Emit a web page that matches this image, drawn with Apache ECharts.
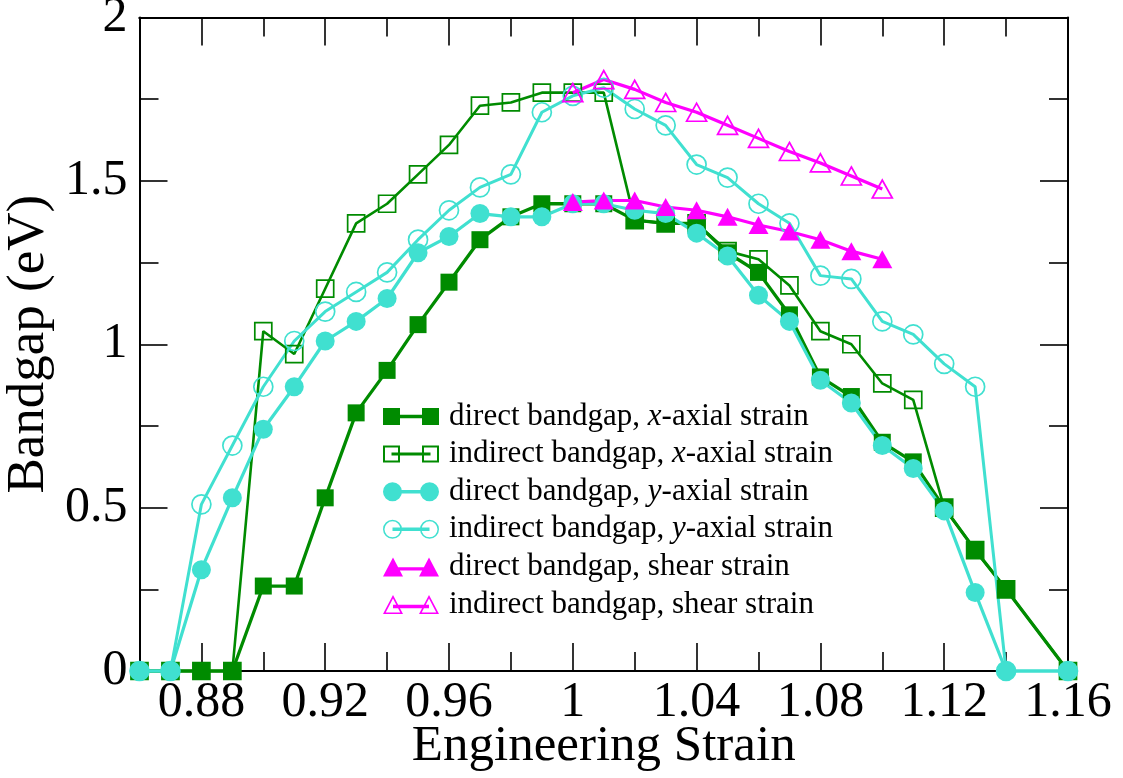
<!DOCTYPE html>
<html>
<head>
<meta charset="utf-8">
<title>Bandgap vs Engineering Strain</title>
<script src="https://cdn.jsdelivr.net/npm/echarts@6/dist/echarts.min.js"></script>
<style>
  html, body { margin: 0; padding: 0; background: #fff; }
  #chart { width: 1123px; height: 778px; }
</style>
</head>
<body>
<div id="chart"></div>
<script>
// Strain points for the axial (x and y) runs; 1.15 was not computed
const strainAxial = [0.86, 0.87, 0.88, 0.89, 0.90, 0.91, 0.92, 0.93, 0.94, 0.95,
                     0.96, 0.97, 0.98, 0.99, 1.00, 1.01, 1.02, 1.03, 1.04, 1.05,
                     1.06, 1.07, 1.08, 1.09, 1.10, 1.11, 1.12, 1.13, 1.14, 1.16];
// Strain points for the shear run
const strainShear = [1.00, 1.01, 1.02, 1.03, 1.04, 1.05, 1.06, 1.07, 1.08, 1.09, 1.10];

// Bandgaps (eV)
const directX   = [0, 0, 0, 0, 0.26, 0.26, 0.53, 0.79, 0.92, 1.06,
                   1.19, 1.32, 1.39, 1.43, 1.43, 1.43, 1.38, 1.37, 1.37, 1.28,
                   1.22, 1.09, 0.90, 0.84, 0.70, 0.64, 0.50, 0.37, 0.25, 0];
const indirectX = [0, 0, 0, 0, 1.04, 0.97, 1.17, 1.37, 1.43, 1.52,
                   1.61, 1.73, 1.74, 1.77, 1.77, 1.77, 1.38, 1.37, 1.37, 1.285,
                   1.26, 1.18, 1.04, 1.00, 0.88, 0.83, 0.50, 0.37, 0.25, 0];
const directY   = [0, 0, 0.31, 0.53, 0.74, 0.87, 1.01, 1.07, 1.14, 1.28,
                   1.33, 1.40, 1.39, 1.39, 1.43, 1.43, 1.41, 1.40, 1.34, 1.27,
                   1.15, 1.07, 0.89, 0.82, 0.69, 0.62, 0.49, 0.24, 0, 0];
const indirectY = [0, 0, 0.51, 0.69, 0.87, 1.01, 1.10, 1.16, 1.22, 1.32,
                   1.41, 1.48, 1.52, 1.71, 1.76, 1.785, 1.72, 1.67, 1.55, 1.51,
                   1.43, 1.37, 1.21, 1.20, 1.07, 1.03, 0.94, 0.87, 0, 0];
const directShear   = [1.435, 1.44, 1.44, 1.42, 1.41, 1.39, 1.365, 1.345, 1.32, 1.285, 1.26];
const indirectShear = [1.77, 1.81, 1.78, 1.74, 1.71, 1.67, 1.63, 1.59, 1.555, 1.515, 1.475];

// Axis tick positions
const xMajorTicks = [0.88, 0.92, 0.96, 1.00, 1.04, 1.08, 1.12, 1.16];
const xMinorTicks = [0.90, 0.94, 0.98, 1.02, 1.06, 1.10, 1.14];

const GREEN = '#008b00';
const TURQ = '#40e0d0';
const MAGENTA = '#ff00ff';
const SERIF = "'Liberation Serif', 'Times New Roman', Times, serif";

const pairs = (xs, ys) => xs.map((x, i) => [x, ys[i]]);
const fmt = v => String(Math.round(v * 100) / 100);

// Legend glyphs: marker - line - marker, 56 x 19 box
const speck = ' M28 0L28.01 0L28 0.01Z M28 19L28.01 19L28 18.99Z';
const ICON = {
  fillSquare: 'path://M0 1H17V18H0Z M39 1H56V18H39Z M17 7.8H39V11.2H17Z' + speck,
  openSquare: 'path://M0 1H17V18H0Z M2 3V16H15V3Z M39 1H56V18H39Z M41 3V16H54V3Z M8.5 8H47.5V11H8.5Z' + speck,
  fillCircle: 'path://M0 9.5A9.5 9.5 0 1 1 19 9.5A9.5 9.5 0 1 1 0 9.5Z M37 9.5A9.5 9.5 0 1 1 56 9.5A9.5 9.5 0 1 1 37 9.5Z M9.5 7.8H46.5V11.2H9.5Z',
  openCircle: 'path://M0 9.5A9.5 9.5 0 1 1 19 9.5A9.5 9.5 0 1 1 0 9.5Z M1.5 9.5A8 8 0 1 0 17.5 9.5A8 8 0 1 0 1.5 9.5Z M37 9.5A9.5 9.5 0 1 1 56 9.5A9.5 9.5 0 1 1 37 9.5Z M38.5 9.5A8 8 0 1 0 54.5 9.5A8 8 0 1 0 38.5 9.5Z M9.5 7.8H46.5V11.2H9.5Z',
  fillTri: 'path://M10 0L20 19H0Z M46 0L56 19H36Z M10 9.8H46V13.2H10Z',
  openTri: 'path://M10 0L20 19H0Z M10 3.6L2.7 17.6H17.3Z M46 0L56 19H36Z M46 3.6L38.7 17.6H53.3Z M10 9.8H46V13.2H10Z'
};

const names = [
  'direct bandgap, x-axial strain',
  'indirect bandgap, x-axial strain',
  'direct bandgap, y-axial strain',
  'indirect bandgap, y-axial strain',
  'direct bandgap, shear strain',
  'indirect bandgap, shear strain'
];

function lineSeries(name, data, symbol, size, color, open, width) {
  return {
    name: name,
    type: 'line',
    data: data,
    xAxisIndex: 0,
    yAxisIndex: 0,
    symbol: symbol,
    symbolSize: size,
    showAllSymbol: true,
    clip: false,
    animation: false,
    lineStyle: { color: color, width: width },
    itemStyle: open
      ? { color: 'rgba(0,0,0,0)', borderColor: color, borderWidth: 1.7 }
      : { color: color, borderWidth: 0 },
    emphasis: { disabled: true }
  };
}

const axisLineStyle = { color: '#000', width: 2 };
const tickLineStyle = { color: '#000', width: 1.6 };

function xAxisDef(position, ticks, len, labels, name) {
  return {
    type: 'value',
    gridIndex: 0,
    position: position,
    min: 0.86,
    max: 1.16,
    axisLine: { show: true, onZero: false, lineStyle: axisLineStyle },
    axisTick: { show: true, inside: true, length: len, customValues: ticks, lineStyle: tickLineStyle },
    axisLabel: labels
      ? { show: true, customValues: ticks, formatter: fmt, margin: 7,
          fontFamily: SERIF, fontSize: 50, color: '#000' }
      : { show: false },
    splitLine: { show: false },
    name: name || '',
    nameLocation: 'middle',
    nameGap: 50,
    nameMoveOverlap: false,
    nameTextStyle: { fontFamily: SERIF, fontSize: 51, color: '#000' }
  };
}

function yAxisDef(position, labels, name) {
  return {
    type: 'value',
    gridIndex: 0,
    position: position,
    min: 0,
    max: 2,
    interval: 0.5,
    axisLine: { show: true, onZero: false, lineStyle: axisLineStyle },
    axisTick: { show: true, inside: true, length: 28, lineStyle: tickLineStyle },
    minorTick: { show: true, splitNumber: 2, length: 19, lineStyle: tickLineStyle },
    axisLabel: labels
      ? { show: true, formatter: fmt, margin: 12, fontFamily: SERIF, fontSize: 50, color: '#000' }
      : { show: false },
    splitLine: { show: false },
    minorSplitLine: { show: false },
    name: name || '',
    nameLocation: 'middle',
    nameGap: 84,
    nameRotate: 90,
    nameMoveOverlap: false,
    nameTextStyle: { fontFamily: SERIF, fontSize: 53, color: '#000' }
  };
}

const legendIcons = [ICON.fillSquare, ICON.openSquare, ICON.fillCircle, ICON.openCircle, ICON.fillTri, ICON.openTri];
const legendColors = [GREEN, GREEN, TURQ, TURQ, MAGENTA, MAGENTA];

const option = {
  backgroundColor: '#fff',
  animation: false,
  grid: {
    left: 139.5, top: 17.5, width: 928.5, height: 653.5,
    containLabel: false,
    outerBoundsMode: 'none'
  },
  xAxis: [
    xAxisDef('bottom', xMajorTicks, 28, true, 'Engineering Strain'),
    xAxisDef('bottom', xMinorTicks, 19, false),
    xAxisDef('top', xMajorTicks, 28, false),
    xAxisDef('top', xMinorTicks, 19, false)
  ],
  yAxis: [
    yAxisDef('left', true, 'Bandgap (eV)'),
    yAxisDef('right', false)
  ],
  legend: {
    show: true,
    orient: 'vertical',
    left: 383,
    top: 401,
    padding: 0,
    itemWidth: 56,
    itemHeight: 19,
    itemGap: 6.6,
    selectedMode: false,
    data: names.map((n, i) => ({
      name: n,
      icon: legendIcons[i],
      itemStyle: { color: legendColors[i], borderWidth: 0, opacity: 1 }
    })),
    formatter: n => n.replace(/ ([xy])-/, ' {i|$1}-'),
    textStyle: {
      fontFamily: SERIF, fontSize: 31, color: '#000', lineHeight: 30,
      padding: [0, 0, 0, 5],
      rich: {
        i: { fontFamily: SERIF, fontSize: 31, fontStyle: 'italic', color: '#000', lineHeight: 30 }
      }
    }
  },
  series: [
    lineSeries(names[0], pairs(strainAxial, directX), 'rect', 17, GREEN, false, 3.3),
    lineSeries(names[1], pairs(strainAxial, indirectX), 'rect', 17, GREEN, true, 2.6),
    lineSeries(names[2], pairs(strainAxial, directY), 'circle', 19, TURQ, false, 3.2),
    lineSeries(names[3], pairs(strainAxial, indirectY), 'circle', 19, TURQ, true, 3),
    lineSeries(names[4], pairs(strainShear, directShear), 'triangle', [20, 18], MAGENTA, false, 3.2),
    lineSeries(names[5], pairs(strainShear, indirectShear), 'triangle', [20, 18], MAGENTA, true, 3.2)
  ]
};

const chart = echarts.init(document.getElementById('chart'), null, { renderer: 'canvas' });
chart.setOption(option);
</script>
</body>
</html>
